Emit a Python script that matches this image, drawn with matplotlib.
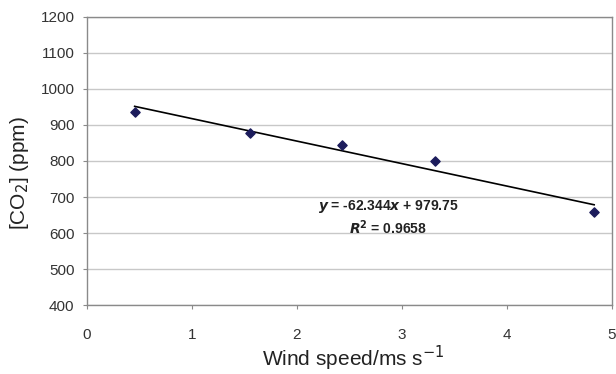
import numpy as np
import matplotlib
matplotlib.use("Agg")
import matplotlib.pyplot as plt

plt.rcParams.update({"font.family": ["Liberation Sans", "DejaVu Sans"]})

wind = [0.454, 1.555, 2.43, 3.31, 4.83]
co2 = [937, 878, 843, 800, 658]
slope, intercept, r2 = -62.344, 979.75, 0.9658
xticks = [0, 1, 2, 3, 4, 5]
yticks = [400, 500, 600, 700, 800, 900, 1000, 1100, 1200]

fig = plt.figure(figsize=(6.16, 3.74), dpi=100)
ax = fig.add_axes([0.1412, 0.1837, 0.8523, 0.7717])

ax.set_xlim(0, 5); ax.set_ylim(400, 1200)
ax.set_xticks(xticks); ax.set_yticks(yticks)
ax.yaxis.grid(True, color="#c8c8c8", lw=1)
ax.set_axisbelow(True)
for s in ax.spines.values():
    s.set_color("#8a8a8a"); s.set_linewidth(1)
ax.tick_params(colors="#8a8a8a", labelcolor="#333333", labelsize=11, length=3, direction="out")
ax.tick_params(axis="x", pad=13)
ax.tick_params(axis="y", pad=6)

xs = np.array([wind[0], wind[-1]])
ax.plot(xs, slope*xs + intercept, color="black", lw=1.2, zorder=2)
ax.scatter(wind, co2, marker="D", s=22, color="#1c1c5c", zorder=3)

ax.text(2.87, 674, r"$\boldsymbol{y}$ = -62.344$\boldsymbol{x}$ + 979.75", ha="center", va="center",
        fontsize=10, fontweight="bold", color="#222222")
ax.text(2.87, 616, r"$\boldsymbol{R}^{\mathbf{2}}$ = 0.9658", ha="center", va="center",
        fontsize=10, fontweight="bold", color="#222222")

fig.text(353.5/616, 1 - 366/374, r"Wind speed/ms s$^{-1}$", ha="center", va="baseline",
         fontsize=15, color="#222222")
fig.text(20/616, 1 - 173/374, r"[CO$_2$] (ppm)", ha="center", va="center", rotation=90,
         fontsize=15, color="#222222")

fig.savefig("out.png", dpi=100)
